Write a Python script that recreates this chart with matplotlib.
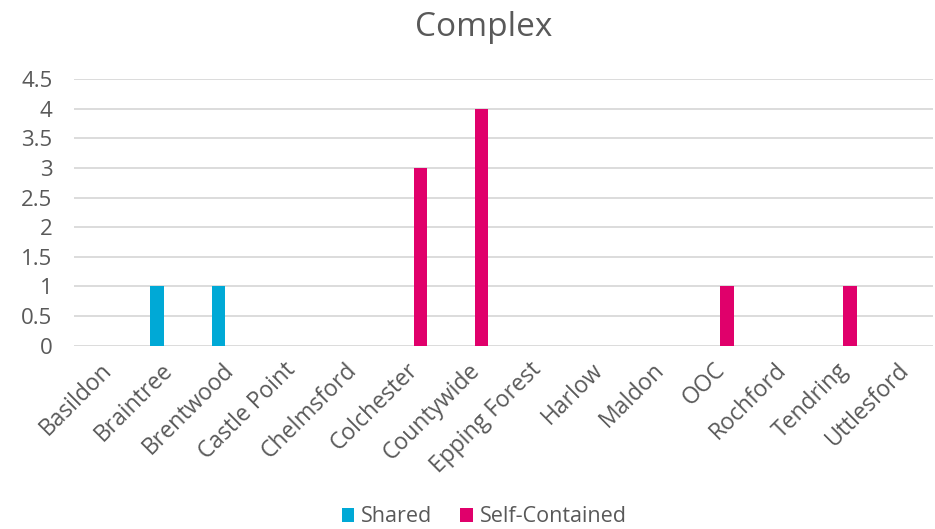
import matplotlib
matplotlib.use("Agg")
import matplotlib.pyplot as plt
import matplotlib.transforms as mtransforms
import numpy as np

categories = ["Basildon", "Braintree", "Brentwood", "Castle Point", "Chelmsford",
              "Colchester", "Countywide", "Epping Forest", "Harlow", "Maldon",
              "OOC", "Rochford", "Tendring", "Uttlesford"]
shared = [0, 1, 1, 0, 0, 0, 0, 0, 0, 0, 0, 0, 0, 0]
self_contained = [0, 0, 0, 0, 0, 3, 4, 0, 0, 0, 1, 0, 1, 0]
yticks = [0, 0.5, 1, 1.5, 2, 2.5, 3, 3.5, 4, 4.5]
ytick_labels = ["0", "0.5", "1", "1.5", "2", "2.5", "3", "3.5", "4", "4.5"]

plt.rcParams['font.family'] = ['Open Sans', 'DejaVu Sans']
text_color = "#595959"

fig = plt.figure(figsize=(9.35, 5.29), dpi=100)
ax = fig.add_axes([74/935, 1-345.7/529, (933-74)/935, (345.7-79)/529])

x = np.arange(len(categories))
bw = 0.22
off = 0.145
ax.bar(x - off, shared, width=bw, color="#00A9D6", label="Shared", zorder=3)
ax.bar(x + off, self_contained, width=bw, color="#E0006B", label="Self-Contained", zorder=3)

ax.set_xlim(-0.5, len(categories) - 0.5)
ax.set_ylim(0, 4.5)
ax.set_yticks(yticks)
ax.set_yticklabels(ytick_labels)
ax.yaxis.grid(True, color="#D9D9D9", linewidth=1.3, zorder=0)
ax.set_axisbelow(True)
for s in ax.spines.values():
    s.set_visible(False)
ax.tick_params(axis='both', length=0, colors=text_color, labelsize=16)
ax.tick_params(axis='y', pad=15.5)
ax.set_xticks(x)
ax.set_xticklabels(categories, rotation=45, ha='right', rotation_mode='anchor')
ax.tick_params(axis='x', pad=9, labelsize=16.5)
shift = mtransforms.ScaledTranslation(-5/100, 0, fig.dpi_scale_trans)
for lbl in ax.get_xticklabels():
    lbl.set_transform(lbl.get_transform() + shift)

fig.text(484/935, 1-27/529, "Complex", ha='center', va='center', fontsize=24, color=text_color)

fig.legend(loc='center', bbox_to_anchor=(484/935, 1-517/529), ncol=2, frameon=False,
           fontsize=15.5, labelcolor=text_color, handlelength=0.6, handleheight=0.6,
           handletextpad=0.3, columnspacing=1.3)

fig.savefig("out.png", dpi=100)
